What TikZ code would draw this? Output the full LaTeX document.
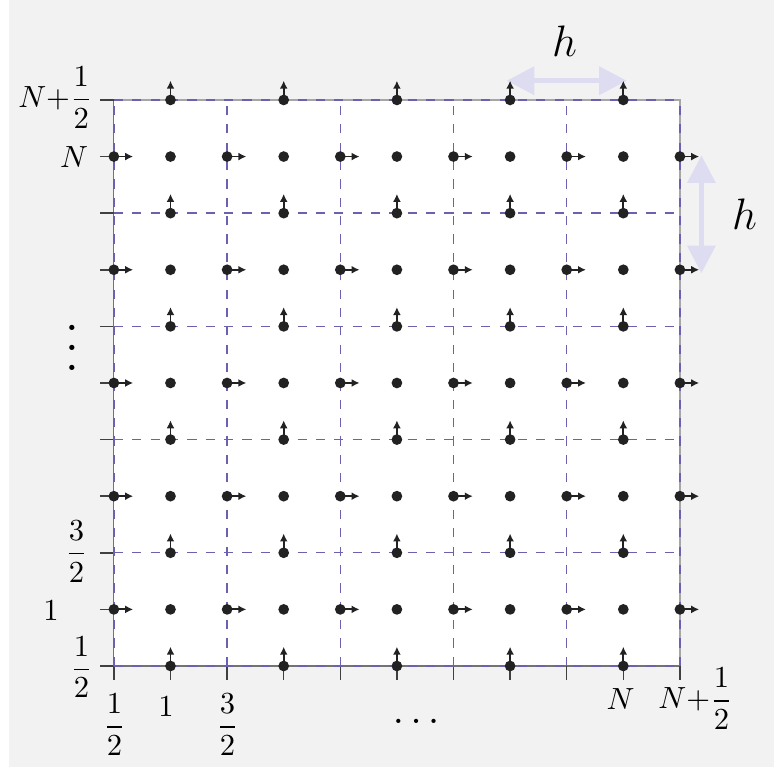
\documentclass[tikz,border=0pt]{standalone}
\usepackage{amssymb, amsmath, amsfonts}
\usepackage{tikz}
\usetikzlibrary{calc,arrows.meta}
\definecolor{bggray}{HTML}{F2F2F2}
\definecolor{gridblue}{HTML}{6A62B0}
\definecolor{hcolor}{HTML}{DEDCF0}
\definecolor{dotcolor}{HTML}{222222}

\begin{document}
\begin{tikzpicture}[x=1.3cm,y=1.3cm]
    \tikzstyle{dot}=[circle,fill=dotcolor,inner sep=0,minimum size=3.5pt]
    \tikzstyle{flux}=[-{Latex[length=2.6pt,width=2.6pt]},line width=0.6pt,dotcolor]
    \tikzstyle{grid line}=[gridblue,dashed,line width=0.45pt]
    \tikzstyle{tick}=[black!75,line width=0.5pt]
    \tikzstyle{axis label}=[inner sep=0]
    \tikzstyle{width arrow}=[{Triangle[length=9pt,width=9pt]}-{Triangle[length=9pt,width=9pt]},hcolor,line width=1.6pt]

    \useasboundingbox (-0.506,-0.428) rectangle (6.331,6.383);
    \fill[bggray] (-0.427,-0.395) rectangle (6.331,6.383);
    \fill[white] (0.5,0.5) rectangle (5.5,5.5);

    % border, axes and ticks
    \draw[gray!70] (5.5,0.5) -- (5.5,5.5) -- (0.5,5.5);
    \draw[black!55] (0.5,5.5) -- (0.5,0.5) -- (5.5,0.5);
    \foreach \k in {0.5,1,...,5.5}{
        \draw[tick] (0.5,\k) -- ++(-0.12,0);
        \draw[tick] (\k,0.5) -- ++(0,-0.12);
    }
    \foreach \k in {0.5,1.5,...,5.5}{
        \draw[grid line] (\k,0.5) -- (\k,5.5);
        \draw[grid line] (0.5,\k) -- (5.5,\k);
    }

    % spacing h
    \coordinate (hx1) at (3.97,5.67);
    \coordinate (hx2) at (5.03,5.67);
    \coordinate (hy1) at (5.69,3.97);
    \coordinate (hy2) at (5.69,5.01);
    \draw[width arrow] (hx1) -- (hx2);
    \draw[width arrow] (hy1) -- (hy2);
    \node[font=\Large] (hx) at (4.48,6.02) {$h$};
    \node[font=\Large] (hy) at (6.07,4.49) {$h$};

    % cell centres
    \foreach \i in {1,...,5}
        \foreach \j in {1,...,5}
            \node[dot] (p-\i-\j) at (\i,\j) {};
    % x faces
    \foreach \i in {0,...,5}
        \foreach \j in {1,...,5}{
            \node[dot] (u-\i-\j) at (\i+0.5,\j) {};
            \coordinate (ut-\i-\j) at ($(u-\i-\j)+(0.17,0)$);
            \draw[flux] (u-\i-\j.center) -- (ut-\i-\j);
        }
    % y faces
    \foreach \i in {1,...,5}
        \foreach \j in {0,...,5}{
            \node[dot] (v-\i-\j) at (\i,\j+0.5) {};
            \coordinate (vt-\i-\j) at ($(v-\i-\j)+(0,0.17)$);
            \draw[flux] (v-\i-\j.center) -- (vt-\i-\j);
        }

    % labels
    \node[axis label] (yN1) at (-0.016,5.52) {$N{+}\dfrac{1}{2}$};
    \node[axis label] (yN) at (0.148,5) {$N$};
    \node[axis label,scale=1.6] (ydots) at (0.13,3.44) {$\vdots$};
    \node[axis label] (y32) at (0.171,1.51) {$\dfrac{3}{2}$};
    \node[axis label] (y1) at (-0.055,0.985) {$1$};
    \node[axis label] (y12) at (0.215,0.49) {$\dfrac{1}{2}$};
    \node[axis label] (x12) at (0.505,-0.02) {$\dfrac{1}{2}$};
    \node[axis label] (x1) at (0.96,0.142) {$1$};
    \node[axis label] (x32) at (1.504,-0.02) {$\dfrac{3}{2}$};
    \node[axis label,scale=1.3] (xdots) at (3.17,0.015) {$\ldots$};
    \node[axis label] (xN) at (4.975,0.208) {$N$};
    \node[axis label] (xN1) at (5.638,0.21) {$N{+}\dfrac{1}{2}$};
\end{tikzpicture}
\end{document}
